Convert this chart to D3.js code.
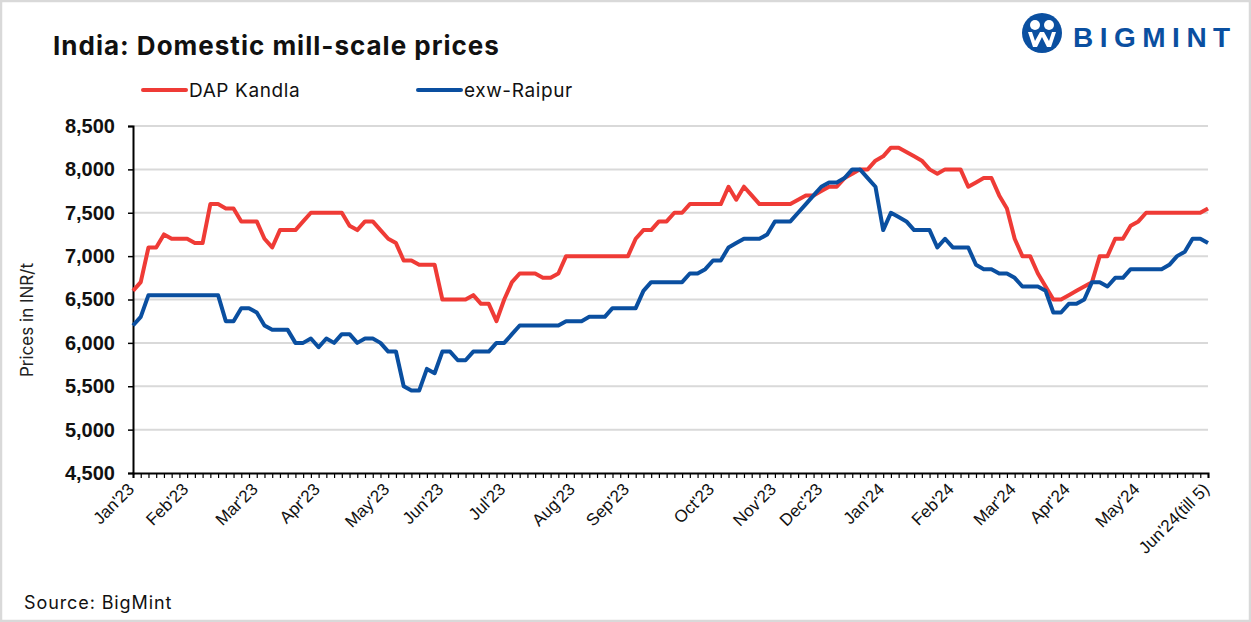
<!DOCTYPE html>
<head>
    <meta charset="utf-8">
    <script src="https://d3js.org/d3.v7.js"></script>
    <style>
        body { margin: 0; background: #fff; }
        svg { display: block; }
    </style>
</head>
<body>
    <svg id="chart" width="1251" height="622"></svg>
    <script>
        // month labels and the category index where each one sits
        const monthLabels = ["Jan'23","Feb'23","Mar'23","Apr'23","May'23","Jun'23","Jul'23","Aug'23","Sep'23",
            "Oct'23","Nov'23","Dec'23","Jan'24","Feb'24","Mar'24","Apr'24","May'24","Jun'24(till 5)"];
        const monthIndex = [0, 7, 16, 24, 33, 40, 48, 57, 64, 75, 83, 89, 97, 106, 114, 121, 130, 139];

        // prices, INR/t
        const dapKandla = [
            6600, 6700, 7100, 7100, 7250, 7200, 7200, 7200, 7150, 7150,
            7600, 7600, 7550, 7550, 7400, 7400, 7400, 7200, 7100, 7300,
            7300, 7300, 7400, 7500, 7500, 7500, 7500, 7500, 7350, 7300,
            7400, 7400, 7300, 7200, 7150, 6950, 6950, 6900, 6900, 6900,
            6500, 6500, 6500, 6500, 6550, 6450, 6450, 6250, 6500, 6700,
            6800, 6800, 6800, 6750, 6750, 6800, 7000, 7000, 7000, 7000,
            7000, 7000, 7000, 7000, 7000, 7200, 7300, 7300, 7400, 7400,
            7500, 7500, 7600, 7600, 7600, 7600, 7600, 7800, 7650, 7800,
            7700, 7600, 7600, 7600, 7600, 7600, 7650, 7700, 7700, 7750,
            7800, 7800, 7900, 7950, 8000, 8000, 8100, 8150, 8250, 8250,
            8200, 8150, 8100, 8000, 7950, 8000, 8000, 8000, 7800, 7850,
            7900, 7900, 7700, 7550, 7200, 7000, 7000, 6800, 6650, 6500,
            6500, 6550, 6600, 6650, 6700, 7000, 7000, 7200, 7200, 7350,
            7400, 7500, 7500, 7500, 7500, 7500, 7500, 7500, 7500, 7550
        ];
        const exwRaipur = [
            6200, 6300, 6550, 6550, 6550, 6550, 6550, 6550, 6550, 6550,
            6550, 6550, 6250, 6250, 6400, 6400, 6350, 6200, 6150, 6150,
            6150, 6000, 6000, 6050, 5950, 6050, 6000, 6100, 6100, 6000,
            6050, 6050, 6000, 5900, 5900, 5500, 5450, 5450, 5700, 5650,
            5900, 5900, 5800, 5800, 5900, 5900, 5900, 6000, 6000, 6100,
            6200, 6200, 6200, 6200, 6200, 6200, 6250, 6250, 6250, 6300,
            6300, 6300, 6400, 6400, 6400, 6400, 6600, 6700, 6700, 6700,
            6700, 6700, 6800, 6800, 6850, 6950, 6950, 7100, 7150, 7200,
            7200, 7200, 7250, 7400, 7400, 7400, 7500, 7600, 7700, 7800,
            7850, 7850, 7900, 8000, 8000, 7900, 7800, 7300, 7500, 7450,
            7400, 7300, 7300, 7300, 7100, 7200, 7100, 7100, 7100, 6900,
            6850, 6850, 6800, 6800, 6750, 6650, 6650, 6650, 6600, 6350,
            6350, 6450, 6450, 6500, 6700, 6700, 6650, 6750, 6750, 6850,
            6850, 6850, 6850, 6850, 6900, 7000, 7050, 7200, 7200, 7150
        ];
        const yTicks = [4500, 5000, 5500, 6000, 6500, 7000, 7500, 8000, 8500];

        const svg = d3.select("#chart");
        const width = +svg.attr("width");
        const height = +svg.attr("height");
        const font = "'Liberation Sans', Arial, sans-serif";
        const textFont = "Inter, 'Liberation Sans', sans-serif";

        // outer frame
        svg.append("rect")
            .attr("x", 1).attr("y", 1)
            .attr("width", width - 2).attr("height", height - 2)
            .attr("fill", "#fff")
            .attr("stroke", "#d9d9d9")
            .attr("stroke-width", 2.5);

        const plotLeft = 133, plotRight = 1208, plotTop = 126, plotBottom = 473;

        const x = d3.scalePoint()
            .domain(d3.range(dapKandla.length))
            .range([plotLeft, plotRight]);
        const y = d3.scaleLinear()
            .domain([4500, 8500])
            .range([plotBottom, plotTop]);

        // gridlines
        svg.append("g")
            .selectAll("line")
            .data(yTicks.slice(1))
            .join("line")
                .attr("x1", plotLeft).attr("x2", plotRight)
                .attr("y1", d => y(d)).attr("y2", d => y(d))
                .attr("stroke", "#d9d9d9")
                .attr("stroke-width", 2);

        // y axis
        const yAxis = svg.append("g")
            .attr("transform", `translate(${plotLeft},0)`)
            .call(d3.axisLeft(y).tickValues(yTicks).tickSize(5).tickPadding(13).tickFormat(d3.format(",")));
        yAxis.select(".domain").attr("stroke", "#000").attr("stroke-width", 2);
        yAxis.selectAll(".tick line").attr("stroke", "#000").attr("stroke-width", 1.5);
        yAxis.selectAll("text")
            .attr("font-family", font)
            .attr("font-size", 20)
            .attr("font-weight", "bold")
            .attr("fill", "#111");

        // x axis with a tick per category
        const xAxis = svg.append("g")
            .attr("transform", `translate(0,${plotBottom})`)
            .call(d3.axisBottom(x).tickSize(5).tickFormat(""));
        xAxis.select(".domain").attr("stroke", "#000").attr("stroke-width", 2);
        xAxis.selectAll(".tick line").attr("stroke", "#000").attr("stroke-width", 1.2);

        svg.append("g")
            .selectAll("text")
            .data(monthIndex)
            .join("text")
                .attr("transform", d => `translate(${x(d) - 2},${plotBottom + 13}) rotate(-45)`)
                .attr("text-anchor", "end")
                .attr("dy", "0.35em")
                .attr("font-family", font)
                .attr("font-size", 17)
                .attr("fill", "#111")
                .text((d, i) => monthLabels[i]);

        // y axis title
        svg.append("text")
            .attr("transform", "translate(33,320) rotate(-90)")
            .attr("text-anchor", "middle")
            .attr("font-family", textFont)
            .attr("font-size", 17)
            .attr("fill", "#222")
            .text("Prices in INR/t");

        // lines
        const line = d3.line()
            .x((d, i) => x(i))
            .y(d => y(d));

        const series = [
            { name: "DAP Kandla", values: dapKandla, color: "#ef3b36" },
            { name: "exw-Raipur", values: exwRaipur, color: "#0a4fa0" }
        ];

        svg.append("g")
            .selectAll("path")
            .data(series)
            .join("path")
                .attr("fill", "none")
                .attr("stroke", d => d.color)
                .attr("stroke-width", 4)
                .attr("stroke-linejoin", "round")
                .attr("d", d => line(d.values));

        // legend
        const legend = svg.append("g")
            .selectAll("g")
            .data(series)
            .join("g")
                .attr("transform", (d, i) => `translate(${143 + i * 275},90)`);
        legend.append("line")
            .attr("x1", 0).attr("x2", 43)
            .attr("stroke", d => d.color)
            .attr("stroke-width", 4)
            .attr("stroke-linecap", "round");
        legend.append("text")
            .attr("x", 46)
            .attr("dy", "0.35em")
            .attr("font-family", textFont)
            .attr("font-size", 19)
            .attr("letter-spacing", 0.6)
            .attr("fill", "#111")
            .text(d => d.name);

        // title
        svg.append("text")
            .attr("x", 53).attr("y", 55)
            .attr("font-family", textFont)
            .attr("font-size", 26)
            .attr("font-weight", "bold")
            .attr("letter-spacing", 1)
            .attr("fill", "#111")
            .text("India: Domestic mill-scale prices");

        // source
        svg.append("text")
            .attr("x", 24).attr("y", 609)
            .attr("font-family", textFont)
            .attr("font-size", 18)
            .attr("letter-spacing", 0.9)
            .attr("fill", "#111")
            .text("Source: BigMint");

        // logo
        const logo = svg.append("g").attr("transform", "translate(1042,33)");
        logo.append("circle").attr("r", 20).attr("fill", "#0a4fa0");
        logo.append("circle").attr("cx", -7).attr("cy", -8).attr("r", 5).attr("fill", "#fff");
        logo.append("circle").attr("cx", 7).attr("cy", -8).attr("r", 5).attr("fill", "#fff");
        logo.append("path")
            .attr("d", "M-14,-1 L-9,14 L-5,14 L0,4 L5,14 L9,14 L14,-1 L10,-1 L7,8 L2,-1 L-2,-1 L-7,8 L-10,-1 Z")
            .attr("fill", "#fff");
        svg.append("text")
            .attr("x", 1073).attr("y", 47)
            .attr("font-family", font)
            .attr("font-size", 28)
            .attr("font-weight", "bold")
            .attr("letter-spacing", 6.5)
            .attr("fill", "#0a4fa0")
            .text("BIGMINT");
    </script>
</body>
